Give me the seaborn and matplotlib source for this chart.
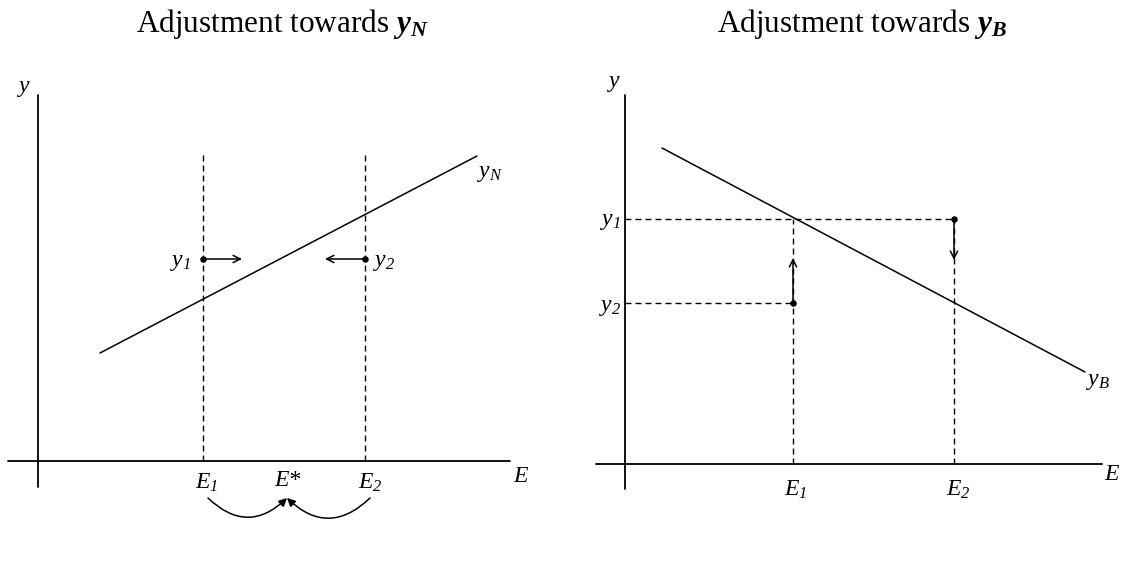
import matplotlib
matplotlib.use("Agg")
import matplotlib.pyplot as plt
import seaborn as sns

sns.set_theme(style="white")
plt.rcParams["font.family"] = ["Liberation Serif", "DejaVu Serif"]
plt.rcParams["text.color"] = "black"
plt.rcParams["mathtext.fontset"] = "custom"
# italic letters and italic subscript digits, bold italic for the title symbols
plt.rcParams["mathtext.rm"] = "Liberation Serif:italic"
plt.rcParams["mathtext.it"] = "Liberation Serif:italic"
plt.rcParams["mathtext.bf"] = "Liberation Serif:italic:bold"

# ---- Left panel: adjustment towards y_N (upward sloping) ----
n_E = [0.62, 4.39]            # E range of the y_N schedule
n_y = [1.08, 3.05]            # y_N values at those E
n_E1, n_E2, n_Estar = 1.65, 3.27, 2.49
n_y1, n_y2 = 2.02, 2.02       # starting output levels at E1 and E2
n_arrow_end = [2.04, 2.87]    # where the horizontal adjustment arrows end
n_guide_top = 3.06

# ---- Right panel: adjustment towards y_B (downward sloping) ----
b_E = [0.37, 4.60]
b_y = [3.16, 0.92]
b_E1, b_E2 = 1.68, 3.29
b_y1, b_y2 = 2.45, 1.61
b_arrow_end = [2.06, 2.04]    # vertical arrow ends at E1 (up) and E2 (down)

titles = ["Adjustment towards $\\mathbf{y_N}$",
          "Adjustment towards $\\mathbf{y_B}$"]

fig = plt.figure(figsize=(11.22, 5.78), dpi=100)
axL = fig.add_axes([0, 0, 0.5, 1])
axR = fig.add_axes([0.5, 0, 0.5, 1])
for ax in (axL, axR):
    ax.set_axis_off()
axL.set_xlim(-0.38, 5.23)
axL.set_ylim(-1.17, 4.61)
axR.set_xlim(-0.64, 4.97)
axR.set_ylim(-1.14, 4.64)

K = "black"
AX_LW = 1.3
LW = 1.1
DASH = dict(color=K, lw=1.0, linestyle=(0, (4.3, 2.9)))
LAB = 17
SUB = dict(fontsize=LAB, ha="center", va="center")


def arrow(ax, start, end, style="->", ms=13, lw=LW, rad=0.0):
    ax.annotate("", xy=end, xytext=start,
                arrowprops=dict(arrowstyle=style, color=K, lw=lw,
                                shrinkA=0, shrinkB=0, mutation_scale=ms,
                                connectionstyle=f"arc3,rad={rad}"))


# ---------------- left panel ----------------
ax = axL
ax.plot([0, 0], [-0.26, 3.66], color=K, lw=AX_LW)
ax.plot([-0.30, 4.72], [0, 0], color=K, lw=AX_LW)
ax.plot([n_E1, n_E1], [0, n_guide_top], **DASH)
ax.plot([n_E2, n_E2], [0, n_guide_top], **DASH)
sns.lineplot(x=n_E, y=n_y, ax=ax, color=K, lw=LW)
sns.scatterplot(x=[n_E1, n_E2], y=[n_y1, n_y2], ax=ax, color=K, s=22,
                edgecolor=K, linewidth=0, zorder=5)
arrow(ax, (n_E1, n_y1), (n_arrow_end[0], n_y1))
arrow(ax, (n_E2, n_y2), (n_arrow_end[1], n_y2))
arrow(ax, (n_E1 + 0.05, -0.37), (n_Estar, -0.37), style="-|>", ms=12, rad=0.48)
arrow(ax, (n_E2 + 0.05, -0.37), (n_Estar, -0.37), style="-|>", ms=12, rad=-0.48)

ax.text(-0.14, 3.73, "$y$", **SUB)
ax.text(n_E[1], 2.88, "$y_N$", fontsize=LAB, ha="left", va="center")
ax.text(n_E1 - 0.12, 1.99, "$y_1$", fontsize=LAB, ha="right", va="center")
ax.text(n_E2 + 0.08, 1.99, "$y_2$", fontsize=LAB, ha="left", va="center")
ax.text(n_E1 + 0.04, -0.22, "$E_1$", **SUB)
ax.text(n_Estar, -0.19, "E*", fontstyle="italic", **SUB)
ax.text(n_E2 + 0.05, -0.22, "$E_2$", **SUB)
ax.text(4.83, -0.16, "$E$", **SUB)
ax.text(2.44, 4.29, titles[0], fontsize=22.5, ha="center", va="baseline")

# ---------------- right panel ----------------
ax = axR
ax.plot([0, 0], [-0.25, 3.69], color=K, lw=AX_LW)
ax.plot([-0.29, 4.77], [0, 0], color=K, lw=AX_LW)
ax.plot([0, b_E2], [b_y1, b_y1], **DASH)
ax.plot([0, b_E1], [b_y2, b_y2], **DASH)
ax.plot([b_E1, b_E1], [0, b_y1], **DASH)
ax.plot([b_E2, b_E2], [0, b_y1], **DASH)
sns.lineplot(x=b_E, y=b_y, ax=ax, color=K, lw=LW)
sns.scatterplot(x=[b_E1, b_E2], y=[b_y2, b_y1], ax=ax, color=K, s=22,
                edgecolor=K, linewidth=0, zorder=5)
arrow(ax, (b_E1, b_y2), (b_E1, b_arrow_end[0]))
arrow(ax, (b_E2, b_y1), (b_E2, b_arrow_end[1]))

ax.text(-0.11, 3.80, "$y$", **SUB)
ax.text(-0.04, 2.42, "$y_1$", fontsize=LAB, ha="right", va="center")
ax.text(-0.04, 1.56, "$y_2$", fontsize=LAB, ha="right", va="center")
ax.text(b_E[1] + 0.01, 0.82, "$y_B$", fontsize=LAB, ha="left", va="center")
ax.text(b_E1 + 0.03, -0.26, "$E_1$", **SUB)
ax.text(b_E2 + 0.04, -0.26, "$E_2$", **SUB)
ax.text(4.87, -0.11, "$E$", **SUB)
ax.text(2.37, 4.32, titles[1], fontsize=22.5, ha="center", va="baseline")

fig.savefig("out.png", dpi=100, facecolor="white")
